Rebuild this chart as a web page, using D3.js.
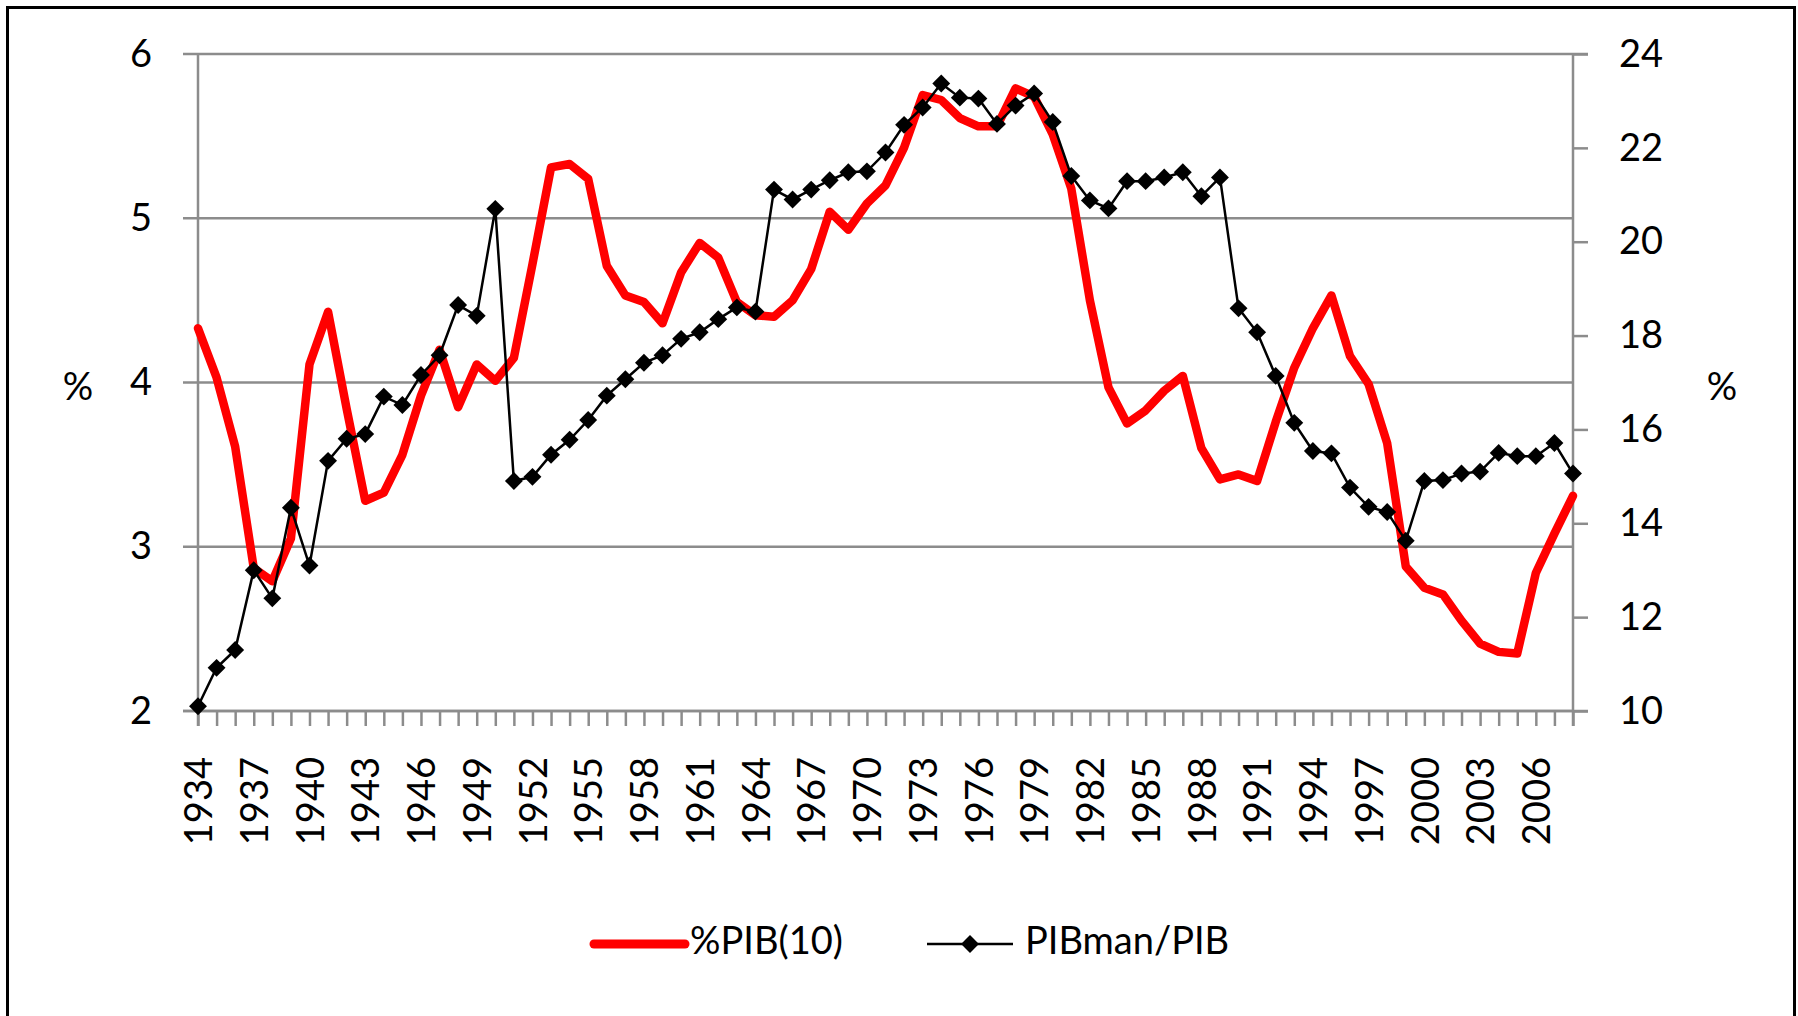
<!DOCTYPE html>
<html>
<head>
<meta charset="utf-8">
<script src="https://cdn.jsdelivr.net/npm/d3@7"></script>
<style>
  html, body { margin: 0; padding: 0; background: #fff; }
  svg { display: block; font-family: Lato, "Open Sans", sans-serif; }
</style>
</head>
<body>
<script>
// Years 1934..2008 (one point per year)
const years = [
  1934, 1935, 1936, 1937, 1938, 1939, 1940, 1941, 1942, 1943,
  1944, 1945, 1946, 1947, 1948, 1949, 1950, 1951, 1952, 1953,
  1954, 1955, 1956, 1957, 1958, 1959, 1960, 1961, 1962, 1963,
  1964, 1965, 1966, 1967, 1968, 1969, 1970, 1971, 1972, 1973,
  1974, 1975, 1976, 1977, 1978, 1979, 1980, 1981, 1982, 1983,
  1984, 1985, 1986, 1987, 1988, 1989, 1990, 1991, 1992, 1993,
  1994, 1995, 1996, 1997, 1998, 1999, 2000, 2001, 2002, 2003,
  2004, 2005, 2006, 2007, 2008
];

// %PIB(10), left axis
const pibTop10 = [
  4.33, 4.03, 3.61, 2.87, 2.79, 3.05, 4.11, 4.43, 3.84, 3.28,
  3.33, 3.56, 3.92, 4.20, 3.85, 4.11, 4.01, 4.15, 4.72, 5.31,
  5.33, 5.24, 4.71, 4.53, 4.49, 4.36, 4.67, 4.85, 4.76, 4.49,
  4.41, 4.40, 4.50, 4.69, 5.04, 4.93, 5.09, 5.20, 5.43, 5.75,
  5.72, 5.61, 5.56, 5.56, 5.79, 5.74, 5.51, 5.18, 4.50, 3.97,
  3.75, 3.83, 3.95, 4.04, 3.60, 3.41, 3.44, 3.40, 3.76, 4.09,
  4.33, 4.53, 4.16, 3.99, 3.63, 2.88, 2.75, 2.71, 2.55, 2.41,
  2.36, 2.35, 2.84, 3.08, 3.31
];

// PIBman/PIB, right axis
const pibManShare = [
  10.10, 10.92, 11.30, 13.00, 12.40, 14.33, 13.10, 15.33, 15.80, 15.90,
  16.70, 16.52, 17.16, 17.58, 18.65, 18.42, 20.70, 14.90, 14.99, 15.46,
  15.78, 16.20, 16.72, 17.07, 17.42, 17.58, 17.93, 18.07, 18.35, 18.60,
  18.51, 21.11, 20.90, 21.11, 21.31, 21.48, 21.50, 21.90, 22.49, 22.86,
  23.37, 23.07, 23.05, 22.51, 22.90, 23.16, 22.55, 21.40, 20.88, 20.71,
  21.29, 21.29, 21.37, 21.48, 20.97, 21.37, 18.58, 18.07, 17.14, 16.14,
  15.54, 15.49, 14.76, 14.35, 14.24, 13.63, 14.90, 14.92, 15.06, 15.10,
  15.50, 15.43, 15.43, 15.71, 15.06
];

const leftTicks = [2, 3, 4, 5, 6];
const rightTicks = [10, 12, 14, 16, 18, 20, 22, 24];
const labelYears = years.filter((y) => (y - 1934) % 3 === 0);

const width = 1798;
const height = 1016;
const plot = { left: 198, right: 1573, top: 54, bottom: 711 };
const gridColor = "#8c8c8c";
const fontSize = 38;

const svg = d3.select("body").append("svg")
  .attr("width", width)
  .attr("height", height)
  .attr("viewBox", [0, 0, width, height]);

// outer frame (runs off the bottom like in the source)
svg.append("rect")
  .attr("x", 7.5).attr("y", 7.5)
  .attr("width", 1787).attr("height", 1040)
  .attr("fill", "#fff")
  .attr("stroke", "#000")
  .attr("stroke-width", 3);

const x = d3.scalePoint().domain(years).range([plot.left, plot.right]);
const yLeft = d3.scaleLinear().domain([2, 6]).range([plot.bottom, plot.top]);
const yRight = d3.scaleLinear().domain([10, 24]).range([plot.bottom, plot.top]);

// horizontal gridlines + left ticks
svg.append("g")
  .selectAll("line")
  .data(leftTicks)
  .join("line")
  .attr("x1", plot.left - 15)
  .attr("x2", (d) => (d === 6 ? plot.right + 15 : plot.right))
  .attr("y1", (d) => yLeft(d))
  .attr("y2", (d) => yLeft(d))
  .attr("stroke", gridColor)
  .attr("stroke-width", 2.5);

// left axis
const leftAxis = svg.append("g")
  .attr("transform", `translate(${plot.left},0)`)
  .call(d3.axisLeft(yLeft).tickValues(leftTicks).tickFormat(d3.format("d"))
    .tickSize(0).tickPadding(46));
leftAxis.select(".domain").remove();
leftAxis.selectAll("text")
  .attr("font-size", fontSize)
  .attr("font-family", "Lato")
  .attr("fill", "#000");
svg.append("line")
  .attr("x1", plot.left).attr("x2", plot.left)
  .attr("y1", plot.top).attr("y2", plot.bottom + 15)
  .attr("stroke", gridColor).attr("stroke-width", 2.5);

// right axis
const rightAxis = svg.append("g")
  .attr("transform", `translate(${plot.right},0)`)
  .call(d3.axisRight(yRight).tickValues(rightTicks).tickFormat(d3.format("d"))
    .tickSize(15).tickPadding(31));
rightAxis.select(".domain").remove();
rightAxis.selectAll("line").attr("stroke", gridColor).attr("stroke-width", 2.5);
rightAxis.selectAll("text")
  .attr("font-size", fontSize)
  .attr("font-family", "Lato")
  .attr("fill", "#000");
svg.append("line")
  .attr("x1", plot.right).attr("x2", plot.right)
  .attr("y1", plot.top).attr("y2", plot.bottom + 15)
  .attr("stroke", gridColor).attr("stroke-width", 2.5);

// bottom axis: a tick at every year, labels every third year
const bottomAxis = svg.append("g")
  .attr("transform", `translate(0,${plot.bottom})`)
  .call(d3.axisBottom(x).tickSize(15).tickSizeOuter(0)
    .tickFormat((d) => (labelYears.includes(d) ? d : "")));
bottomAxis.select(".domain")
  .attr("stroke", gridColor).attr("stroke-width", 2.5)
  .attr("d", `M${plot.left - 15},0H${plot.right + 15}`);
bottomAxis.selectAll(".tick line").attr("stroke", gridColor).attr("stroke-width", 2.5);
bottomAxis.selectAll("text")
  .attr("font-size", fontSize)
  .attr("font-family", "Lato")
  .attr("fill", "#000")
  .attr("text-anchor", "end")
  .attr("dy", "0.36em")
  .attr("transform", "rotate(-90)")
  .attr("x", -46)
  .attr("y", 0);

// axis titles
svg.append("text")
  .attr("x", 78).attr("y", 390)
  .attr("text-anchor", "middle").attr("dominant-baseline", "middle")
  .attr("font-size", fontSize).text("%");
svg.append("text")
  .attr("x", 1722).attr("y", 390)
  .attr("text-anchor", "middle").attr("dominant-baseline", "middle")
  .attr("font-size", fontSize).text("%");

// red series
const redLine = d3.line()
  .x((d, i) => x(years[i]))
  .y((d) => yLeft(d));
svg.append("path")
  .datum(pibTop10)
  .attr("d", redLine)
  .attr("fill", "none")
  .attr("stroke", "#ff0000")
  .attr("stroke-width", 8.5)
  .attr("stroke-linejoin", "round")
  .attr("stroke-linecap", "round");

// black series with diamond markers
const blackLine = d3.line()
  .x((d, i) => x(years[i]))
  .y((d) => yRight(d));
svg.append("path")
  .datum(pibManShare)
  .attr("d", blackLine)
  .attr("fill", "none")
  .attr("stroke", "#000")
  .attr("stroke-width", 2.5);

const diamond = d3.symbol(d3.symbolSquare, 160);
svg.append("g")
  .selectAll("path")
  .data(pibManShare)
  .join("path")
  .attr("d", diamond)
  .attr("transform", (d, i) => `translate(${x(years[i])},${yRight(d)}) rotate(45)`)
  .attr("fill", "#000");

// legend
const legendY = 944;
svg.append("line")
  .attr("x1", 594).attr("x2", 685)
  .attr("y1", legendY).attr("y2", legendY)
  .attr("stroke", "#ff0000").attr("stroke-width", 9)
  .attr("stroke-linecap", "round");
svg.append("text")
  .attr("x", 690).attr("y", legendY)
  .attr("dominant-baseline", "middle")
  .attr("font-size", fontSize).text("%PIB(10)");
svg.append("line")
  .attr("x1", 927).attr("x2", 1013)
  .attr("y1", legendY).attr("y2", legendY)
  .attr("stroke", "#000").attr("stroke-width", 2.5);
svg.append("path")
  .attr("d", diamond)
  .attr("transform", `translate(970,${legendY}) rotate(45)`)
  .attr("fill", "#000");
svg.append("text")
  .attr("x", 1025).attr("y", legendY)
  .attr("dominant-baseline", "middle")
  .attr("font-size", fontSize).text("PIBman/PIB");
</script>
</body>
</html>
